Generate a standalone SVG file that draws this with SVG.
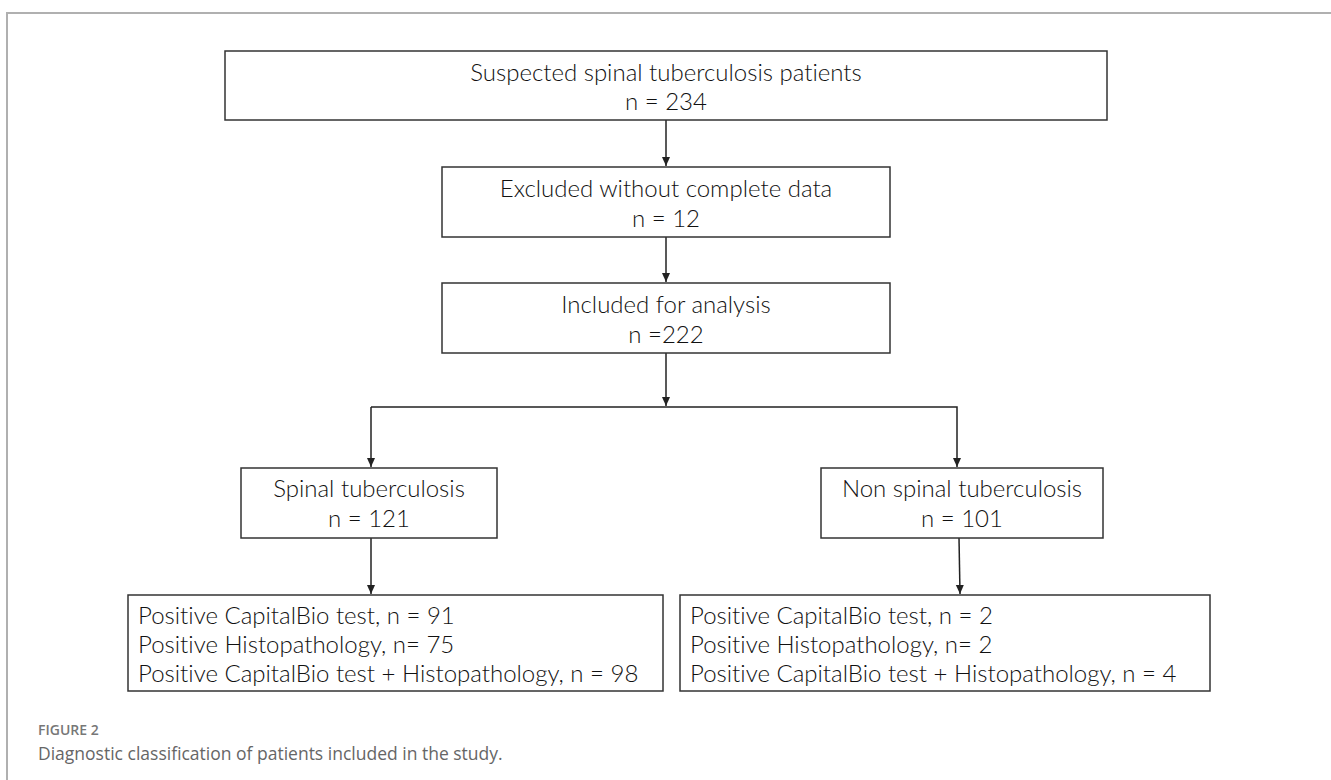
<svg xmlns="http://www.w3.org/2000/svg" width="1331" height="780" viewBox="0 0 1331 780">
<style>
.box{fill:#fff;stroke:#333;stroke-width:1.5}
.t{font-family:Lato,"Noto Sans",sans-serif;font-weight:300;font-size:24px;fill:#111;font-variant-ligatures:none}
.m{text-anchor:middle}
.c{fill:none;stroke:#222;stroke-width:1.5}
.frame{fill:none;stroke:#b0b0b0;stroke-width:2}
.fig{font-family:"Open Sans","Noto Sans",sans-serif;font-size:14px;font-weight:600;fill:#777}
.cap{font-family:"Open Sans","Noto Sans",sans-serif;font-size:17.5px;fill:#666}
</style>
<defs>
<marker id="ah" markerWidth="10" markerHeight="10" refX="9" refY="4" orient="auto" markerUnits="userSpaceOnUse">
<path d="M0,0 L9,4 L0,8 Z" fill="#222"/>
</marker>
</defs>
<rect width="1331" height="780" fill="#fff"/>
<path class="frame" d="M7,780 V13 H1331"/>
<g id="connectors">
<line class="c" x1="666" y1="120" x2="666" y2="166" marker-end="url(#ah)"/>
<line class="c" x1="666" y1="237" x2="666" y2="282" marker-end="url(#ah)"/>
<line class="c" x1="666" y1="353" x2="666" y2="406" marker-end="url(#ah)"/>
<polyline class="c" points="371,407 957,407 957,467" marker-end="url(#ah)"/>
<line class="c" x1="371" y1="407" x2="371" y2="467" marker-end="url(#ah)"/>
<line class="c" x1="371" y1="538" x2="371" y2="594" marker-end="url(#ah)"/>
<line class="c" x1="959" y1="538" x2="960" y2="594" marker-end="url(#ah)"/>
</g>
<g id="n1">
<rect class="box" x="225" y="51" width="882" height="69"/>
<text class="t m" x="666" y="81">Suspected spinal tuberculosis patients</text>
<text class="t m" x="666" y="110">n = 234</text>
</g>
<g id="n2">
<rect class="box" x="442" y="167" width="448" height="70"/>
<text class="t m" x="666" y="197">Excluded without complete data</text>
<text class="t m" x="666" y="227">n = 12</text>
</g>
<g id="n3">
<rect class="box" x="442" y="283" width="448" height="70"/>
<text class="t m" x="666" y="313">Included for analysis</text>
<text class="t m" x="666" y="343">n =222</text>
</g>
<g id="n4">
<rect class="box" x="241" y="468" width="256" height="70"/>
<text class="t m" x="369" y="497">Spinal tuberculosis</text>
<text class="t m" x="369" y="527">n = 121</text>
</g>
<g id="n5">
<rect class="box" x="821" y="468" width="282" height="70"/>
<text class="t m" x="962" y="497">Non spinal tuberculosis</text>
<text class="t m" x="962" y="527">n = 101</text>
</g>
<g id="n6">
<rect class="box" x="128" y="595" width="535" height="96"/>
<text class="t" x="138" y="624">Positive CapitalBio test, n = 91</text>
<text class="t" x="138" y="653">Positive Histopathology, n= 75</text>
<text class="t" x="138" y="682">Positive CapitalBio test + Histopathology, n = 98</text>
</g>
<g id="n7">
<rect class="box" x="680" y="595" width="530" height="96"/>
<text class="t" x="690" y="624">Positive CapitalBio test, n = 2</text>
<text class="t" x="690" y="653">Positive Histopathology, n= 2</text>
<text class="t" x="690" y="682">Positive CapitalBio test + Histopathology, n = 4</text>
</g>
<text class="fig" x="38" y="735">FIGURE 2</text>
<text class="cap" x="38" y="760">Diagnostic classification of patients included in the study.</text>
</svg>
